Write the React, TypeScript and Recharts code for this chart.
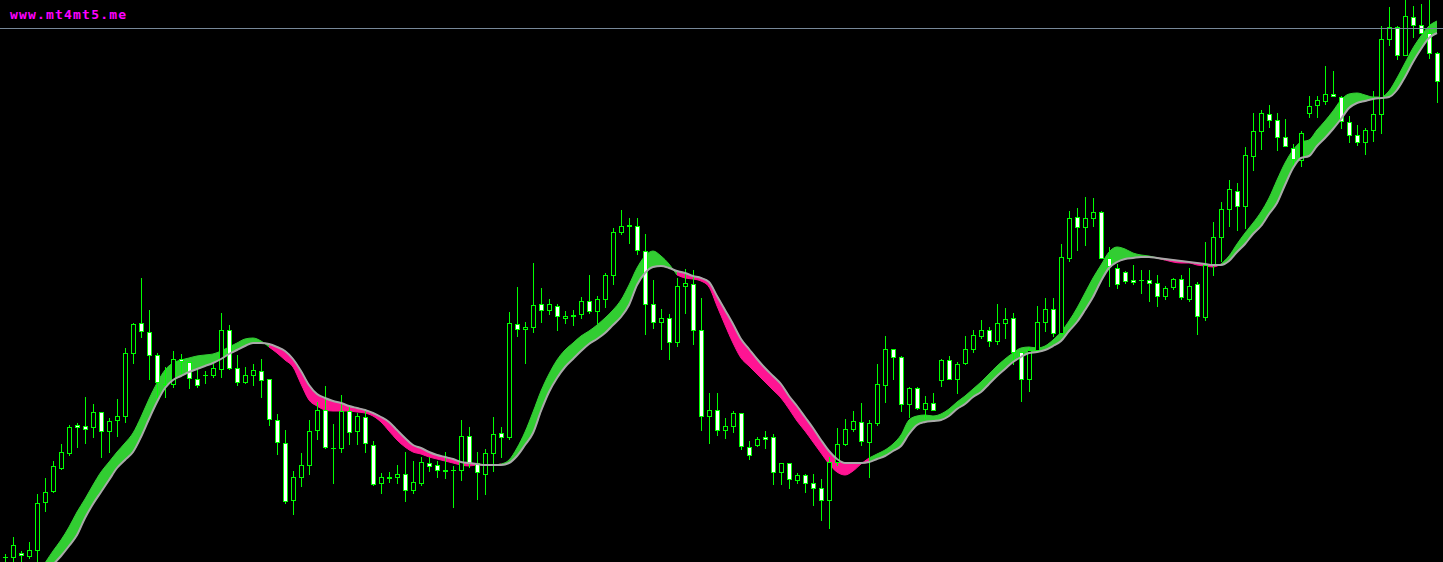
import React from "react";
import { ComposedChart, XAxis, YAxis, Bar, Area, Line, ReferenceLine } from "recharts";

// Price readings (screen-ordered price levels: smaller = higher on chart; Y axis is reversed)
const OPEN = [557,557,553,556,550,502,491,468,453,425,426,427,412,431,420,416,353,323,332,355,384,384,359,362,379,375,375,369,330,368,382,375,371,379,420,443,500,477,465,430,410,448,448,411,431,417,445,483,478,477,474,490,483,463,465,471,470,470,436,463,474,453,433,437,324,329,327,304,310,306,318,316,314,301,311,299,275,232,226,226,251,304,322,318,342,286,284,330,416,410,430,426,413,447,445,437,437,472,463,480,475,483,488,500,462,444,429,422,442,423,385,349,357,404,388,409,403,380,360,379,363,349,336,330,341,323,318,352,379,350,322,309,333,258,217,227,218,212,258,268,272,280,280,280,283,296,287,279,299,284,317,265,237,209,191,206,156,131,114,120,137,148,160,113,105,101,94,97,122,135,142,130,114,39,27,55,17,25,33,53];
const HIGH = [554,537,551,542,494,478,461,444,425,423,397,404,412,418,399,348,323,278,310,353,367,351,354,362,369,371,364,313,325,355,367,364,359,379,414,430,471,453,420,402,386,424,395,405,413,409,441,473,472,465,452,461,457,457,461,452,466,420,427,452,449,417,427,312,287,322,263,288,299,304,311,310,297,275,296,273,228,210,218,218,234,280,309,314,278,269,270,298,393,393,418,411,413,441,437,431,434,463,463,473,474,474,479,457,428,419,411,403,420,364,336,349,356,387,387,396,393,359,356,362,336,330,320,327,304,308,313,352,348,306,298,298,244,211,208,197,198,211,247,264,271,265,270,270,275,286,278,275,268,282,242,222,202,180,183,147,113,110,105,113,119,144,131,96,96,66,71,96,116,125,128,91,26,7,26,0,6,4,0,52];
const LOW = [562,562,561,558,562,511,492,469,455,447,443,437,457,452,436,422,363,337,379,397,397,387,373,388,387,383,377,377,369,385,383,385,397,425,454,503,514,486,474,439,448,483,452,444,444,452,485,493,482,483,501,493,485,471,477,478,507,480,467,499,494,471,457,439,336,363,332,322,314,330,323,325,318,313,323,307,284,234,243,254,334,328,349,359,346,313,344,430,443,435,438,432,449,459,446,448,484,484,488,483,492,505,520,528,465,445,431,445,477,425,402,379,411,417,409,417,410,386,379,393,364,352,338,346,344,338,364,401,391,351,331,336,333,261,250,245,226,258,286,288,283,284,293,301,306,299,289,299,301,334,320,275,261,226,230,228,170,149,127,150,146,167,166,117,117,104,96,128,142,145,154,141,133,45,59,55,37,33,58,102];
const CLOSE = [557,545,555,550,503,492,466,452,427,427,429,412,431,421,416,353,324,331,355,382,384,359,361,378,385,375,368,330,368,382,375,370,380,419,442,501,477,465,431,410,447,448,411,432,416,443,484,477,477,474,490,482,462,466,470,470,470,436,463,472,453,434,437,323,329,327,305,310,304,316,316,315,301,311,299,275,232,226,225,250,304,322,318,342,286,283,330,416,410,430,426,413,446,455,439,439,472,463,479,475,483,488,500,462,444,429,421,441,423,384,349,357,404,388,408,403,410,360,379,364,349,335,330,341,323,319,352,379,350,322,309,333,257,218,227,218,212,258,266,284,281,282,280,283,296,288,279,297,286,316,265,237,209,189,206,155,131,113,120,137,146,159,133,106,100,94,96,121,135,142,130,114,39,27,55,16,25,33,53,81];

// Band readings: fast and slow averages
const FAST = [640,622,603,585,576,563,551,540,527,512,499,485,472,462,452,443,433,417,399,383,370,363,360,358,356,355,354,351,347,343,339,338,341,347,353,360,367,384,400,406,410,411,411,411,412,413,416,422,431,440,447,452,454,457,459,461,463,465,466,465,465,465,464,460,448,432,412,391,374,360,350,343,336,331,325,318,310,300,285,268,256,251,256,264,275,278,279,281,287,306,325,343,358,366,374,382,390,398,409,421,431,442,453,464,472,475,471,464,458,454,450,444,435,420,416,415,416,414,409,402,396,389,382,374,366,359,353,348,347,348,346,340,332,321,308,293,278,265,252,247,249,253,255,256,258,260,262,263,263,265,266,267,264,256,244,233,223,212,198,180,163,150,142,140,130,121,111,100,94,93,95,97,97,91,78,63,48,36,26,21];
const SLOW = [660,642,622,603,591,578,565,556,546,535,518,504,492,480,468,460,452,437,419,402,388,380,376,372,369,366,363,359,354,350,346,343,343,344,347,351,359,371,385,394,398,401,403,406,408,410,413,417,422,430,438,445,448,452,455,457,459,462,463,464,465,465,465,463,456,445,433,411,392,378,367,359,351,344,339,333,325,317,305,285,273,267,266,268,271,273,276,278,282,296,310,324,339,349,359,368,376,384,396,406,417,428,440,451,459,463,463,463,462,459,456,451,446,434,425,422,421,420,416,409,404,397,392,384,376,369,362,357,353,352,350,346,341,331,322,310,297,281,268,262,259,258,257,257,258,259,260,261,262,263,264,265,265,261,252,244,234,226,214,203,185,168,158,156,146,138,129,119,108,103,101,99,98,97,90,77,62,49,38,33];

const PRICE_LINE = 28.5;
const WATERMARK = "www.mt4mt5.me";

const isUp = (i: number) => i >= 0 && i < FAST.length && FAST[i] <= SLOW[i];
const isDn = (i: number) => i >= 0 && i < FAST.length && FAST[i] >= SLOW[i];

const data = OPEN.map((o, i) => ({
  i,
  o,
  h: HIGH[i],
  l: LOW[i],
  c: CLOSE[i],
  hl: [HIGH[i], LOW[i]],
  slow: SLOW[i],
  upBand: isUp(i) || isUp(i - 1) ? [FAST[i], SLOW[i]] : null,
  dnBand: isDn(i) || isDn(i - 1) ? [FAST[i], SLOW[i]] : null,
}));

const LIME = "#00ff00";

const Candle = (props: any) => {
  const { x, y, width, height, payload } = props;
  if (!payload || x == null || y == null) return null;
  const top = Math.min(y, y + height);
  const bot = Math.max(y, y + height);
  const span = payload.l - payload.h;
  const map = (v: number) => (span === 0 ? top : top + ((v - payload.h) * (bot - top)) / span);
  const cx = Math.round(x + width / 2);
  const yo = Math.round(map(payload.o));
  const yc = Math.round(map(payload.c));
  const t = Math.min(yo, yc);
  const b = Math.max(yo, yc);
  const bull = payload.c < payload.o;
  return (
    <g>
      <line x1={cx + 0.5} x2={cx + 0.5} y1={Math.round(top)} y2={Math.round(bot) + 1} stroke={LIME} strokeWidth={1} />
      {b - t < 1 ? (
        <line x1={cx - 2} x2={cx + 3} y1={t + 0.5} y2={t + 0.5} stroke={LIME} strokeWidth={1} />
      ) : (
        <rect x={cx - 1.5} y={t + 0.5} width={4} height={b - t} fill={bull ? "#000" : "#fff"} stroke={LIME} strokeWidth={1} />
      )}
    </g>
  );
};

export default function App() {
  return (
    <div style={{ position: "fixed", left: 0, top: 0, width: 1443, height: 562, background: "#000", overflow: "hidden" }}>
      <ComposedChart width={1443} height={562} data={data} margin={{ top: 0, right: 0, bottom: 0, left: 0 }}>
        <XAxis dataKey="i" type="number" domain={[-0.625, 179.75]} hide allowDataOverflow />
        <YAxis type="number" domain={[0, 562]} reversed hide allowDataOverflow />
        <ReferenceLine y={PRICE_LINE} stroke="#778899" strokeWidth={1} />
        <Area dataKey="upBand" type="monotone" fill="#32cd32" fillOpacity={1} stroke="#32cd32" strokeWidth={1} isAnimationActive={false} connectNulls={false} dot={false} activeDot={false} />
        <Area dataKey="dnBand" type="monotone" fill="#ff1493" fillOpacity={1} stroke="#ff1493" strokeWidth={1} isAnimationActive={false} connectNulls={false} dot={false} activeDot={false} />
        <Line dataKey="slow" type="monotone" stroke="#a9a9a9" strokeWidth={2} dot={false} activeDot={false} isAnimationActive={false} />
        <Bar dataKey="hl" barSize={5} shape={(p: any) => <Candle {...p} />} isAnimationActive={false} />
      </ComposedChart>
      <svg width={200} height={30} style={{ position: "absolute", left: 0, top: 0 }}>
        <text x={10} y={18.5} fill="#ff00ff" fontFamily="'DejaVu Sans Mono', monospace" fontWeight="bold" fontSize={13} textLength={116} lengthAdjust="spacing">
          {WATERMARK}
        </text>
      </svg>
    </div>
  );
}
